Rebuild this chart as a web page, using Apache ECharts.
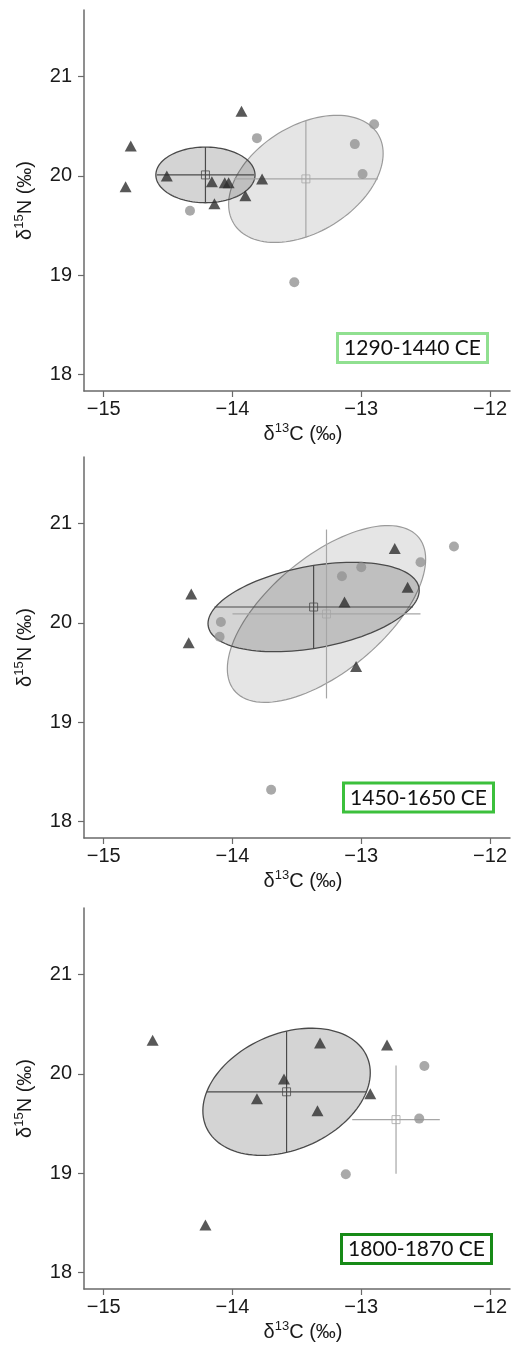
<!DOCTYPE html>
<html>
<head>
<meta charset="utf-8">
<script src="https://cdn.jsdelivr.net/npm/echarts@6/dist/echarts.min.js"></script>
<style>
  html, body { margin: 0; padding: 0; background: #fff; }
  #container { width: 512px; height: 1349px; }
</style>
</head>
<body>
<div id="container"></div>
<script>
// tick labels
var xTicks = [-15, -14, -13, -12];
var yTicks = [18, 19, 20, 21];
var periods = ['1290-1440 CE', '1450-1650 CE', '1800-1870 CE'];

// triangles (dark group), [d13C, d15N]
var tri1 = [[-14.79,20.30],[-14.83,19.89],[-14.51,20.00],[-14.16,19.94],[-14.14,19.72],[-14.06,19.93],[-14.03,19.93],[-13.93,20.65],[-13.90,19.80],[-13.77,19.97]];
var tri2 = [[-14.32,20.29],[-14.34,19.80],[-13.13,20.21],[-13.04,19.56],[-12.74,20.75],[-12.64,20.36]];
var tri3 = [[-14.62,20.34],[-14.21,18.48],[-13.81,19.75],[-13.60,19.95],[-13.34,19.63],[-13.32,20.31],[-12.93,19.80],[-12.80,20.29]];

// circles (grey group)
var circ1 = [[-14.33,19.65],[-13.81,20.38],[-13.52,18.93],[-13.05,20.32],[-12.99,20.02],[-12.90,20.52]];
var circ2 = [[-14.09,20.01],[-14.10,19.86],[-13.70,18.32],[-13.15,20.47],[-13.00,20.56],[-12.54,20.61],[-12.28,20.77]];
var circ3 = [[-13.12,18.99],[-12.55,19.55],[-12.51,20.08]];

// ellipses: [cx, cy, sx, sy, rho]  (one row per panel, null = none)
var ellDark  = [[-14.21,20.01,0.385,0.28,0.0], [-13.37,20.16,0.82,0.45,0.37], [-13.58,19.82,0.65,0.64,0.30]];
var ellLight = [[-13.43,19.97,0.60,0.64,0.40], [-13.27,20.09,0.77,0.89,0.62], null];

// mean +/- sd crosses: [cx, cy, halfX, halfY]
var crossDark  = [[-14.21,20.01,0.377,0.28], [-13.37,20.16,0.77,0.42], [-13.58,19.82,0.62,0.61]];
var crossLight = [[-13.43,19.97,0.56,0.59], [-13.27,20.09,0.73,0.85], [-12.73,19.54,0.34,0.545]];

var tris = [tri1, tri2, tri3];
var circs = [circ1, circ2, circ3];

var gridTops = [10, 457, 908];
var gridH = 381;
var boxColors = ['#90e090', '#3cc03c', '#178a17'];
var boxPos = [[337.5, 333.5], [343.5, 783], [341.5, 1234.5]];

var font = '"Liberation Sans", Arial, sans-serif';
var axisCol = '#6a6a6a';

function fmt(v) { return v < 0 ? '\u2212' + Math.abs(v) : String(v); }

var nameRich = {
    d: { fontSize: 20, lineHeight: 24, fontFamily: font, color: '#1a1a1a' },
    s: { fontSize: 13, lineHeight: 14, fontFamily: font, color: '#1a1a1a', verticalAlign: 'top' }
};

function ellipseRender(fill, stroke, lw) {
    return function (params, api) {
        var cx = api.value(0), cy = api.value(1), sx = api.value(2), sy = api.value(3), r = api.value(4);
        var pts = [];
        for (var k = 0; k < 120; k++) {
            var t = k / 120 * 2 * Math.PI;
            var x = cx + sx * Math.cos(t);
            var y = cy + sy * (r * Math.cos(t) + Math.sqrt(1 - r * r) * Math.sin(t));
            pts.push(api.coord([x, y]));
        }
        return { type: 'polygon', shape: { points: pts }, style: { fill: fill, stroke: stroke, lineWidth: lw } };
    };
}

function crossRender(color) {
    return function (params, api) {
        var cx = api.value(0), cy = api.value(1), hx = api.value(2), hy = api.value(3);
        var a = api.coord([cx - hx, cy]), b = api.coord([cx + hx, cy]);
        var c = api.coord([cx, cy - hy]), d = api.coord([cx, cy + hy]);
        return {
            type: 'group',
            children: [
                { type: 'line', shape: { x1: a[0], y1: a[1], x2: b[0], y2: b[1] }, style: { stroke: color, lineWidth: 1.2 } },
                { type: 'line', shape: { x1: c[0], y1: c[1], x2: d[0], y2: d[1] }, style: { stroke: color, lineWidth: 1.2 } }
            ]
        };
    };
}

var grids = [], xAxes = [], yAxes = [], series = [], graphics = [];

for (var i = 0; i < 3; i++) {
    grids.push({ left: 84, right: 2, top: gridTops[i], height: gridH });
    xAxes.push({
        gridIndex: i, type: 'value', min: -15.153, max: -11.845,
        name: '{d|δ}{s|13}{d|C (‰)}', nameLocation: 'middle', nameGap: 31,
        nameTextStyle: { rich: nameRich, padding: [0, 0, 0, 12] },
        axisLine: { show: true, onZero: false, lineStyle: { color: axisCol, width: 1.5 } },
        axisTick: { show: true, length: 6, customValues: xTicks, lineStyle: { color: axisCol, width: 1.2 } },
        axisLabel: { customValues: xTicks, formatter: fmt, margin: 8, fontSize: 20, fontFamily: font, color: '#1a1a1a' },
        splitLine: { show: false }
    });
    yAxes.push({
        gridIndex: i, type: 'value', min: 17.835, max: 21.67,
        name: '{d|δ}{s|15}{d|N (‰)}', nameLocation: 'middle', nameGap: 47,
        nameTextStyle: { rich: nameRich },
        axisLine: { show: true, onZero: false, lineStyle: { color: axisCol, width: 1.5 } },
        axisTick: { show: true, length: 6, customValues: yTicks, lineStyle: { color: axisCol, width: 1.2 } },
        axisLabel: { customValues: yTicks, formatter: fmt, margin: 12, fontSize: 20, fontFamily: font, color: '#1a1a1a' },
        splitLine: { show: false }
    });

    if (ellLight[i]) {
        series.push({ type: 'custom', xAxisIndex: i, yAxisIndex: i, z: 1, silent: true,
            renderItem: ellipseRender('rgba(0,0,0,0.10)', '#9a9a9a', 1.2), data: [ellLight[i]] });
    }
    series.push({ type: 'custom', xAxisIndex: i, yAxisIndex: i, z: 2, silent: true,
        renderItem: ellipseRender('rgba(0,0,0,0.17)', '#4a4a4a', 1.3), data: [ellDark[i]] });
    series.push({ type: 'custom', xAxisIndex: i, yAxisIndex: i, z: 3, silent: true,
        renderItem: crossRender('#a6a6a6'), data: [crossLight[i]] });
    series.push({ type: 'custom', xAxisIndex: i, yAxisIndex: i, z: 3, silent: true,
        renderItem: crossRender('#4a4a4a'), data: [crossDark[i]] });

    series.push({ type: 'scatter', xAxisIndex: i, yAxisIndex: i, z: 4, symbol: 'circle', symbolSize: 10,
        itemStyle: { color: '#939393' }, data: circs[i] });
    series.push({ type: 'scatter', xAxisIndex: i, yAxisIndex: i, z: 5, symbol: 'triangle', symbolSize: [12, 11],
        itemStyle: { color: '#2e2e2e' }, data: tris[i] });

    series.push({ type: 'scatter', xAxisIndex: i, yAxisIndex: i, z: 6, symbol: 'rect', symbolSize: 8,
        itemStyle: { color: 'rgba(0,0,0,0)', borderColor: '#a6a6a6', borderWidth: 1 },
        data: [[crossLight[i][0], crossLight[i][1]]] });
    series.push({ type: 'scatter', xAxisIndex: i, yAxisIndex: i, z: 6, symbol: 'rect', symbolSize: 8,
        itemStyle: { color: 'rgba(0,0,0,0)', borderColor: '#4a4a4a', borderWidth: 1 },
        data: [[crossDark[i][0], crossDark[i][1]]] });

    graphics.push({
        type: 'rect', left: boxPos[i][0] - 1.5, top: boxPos[i][1] - 1.5, z: 10,
        shape: { x: 0, y: 0, width: 150, height: 29 },
        style: { fill: '#fff', stroke: boxColors[i], lineWidth: 3 }
    });
    graphics.push({
        type: 'text', z: 11, x: boxPos[i][0] + 75, y: boxPos[i][1] + 15,
        style: { text: periods[i], fontSize: 21, fontFamily: 'Lato, "Open Sans", sans-serif',
            fill: '#111', align: 'center', verticalAlign: 'middle' }
    });
}

var myChart = echarts.init(document.getElementById('container'));
myChart.setOption({
    animation: false,
    grid: grids,
    xAxis: xAxes,
    yAxis: yAxes,
    series: series,
    graphic: graphics
});
</script>
</body>
</html>
